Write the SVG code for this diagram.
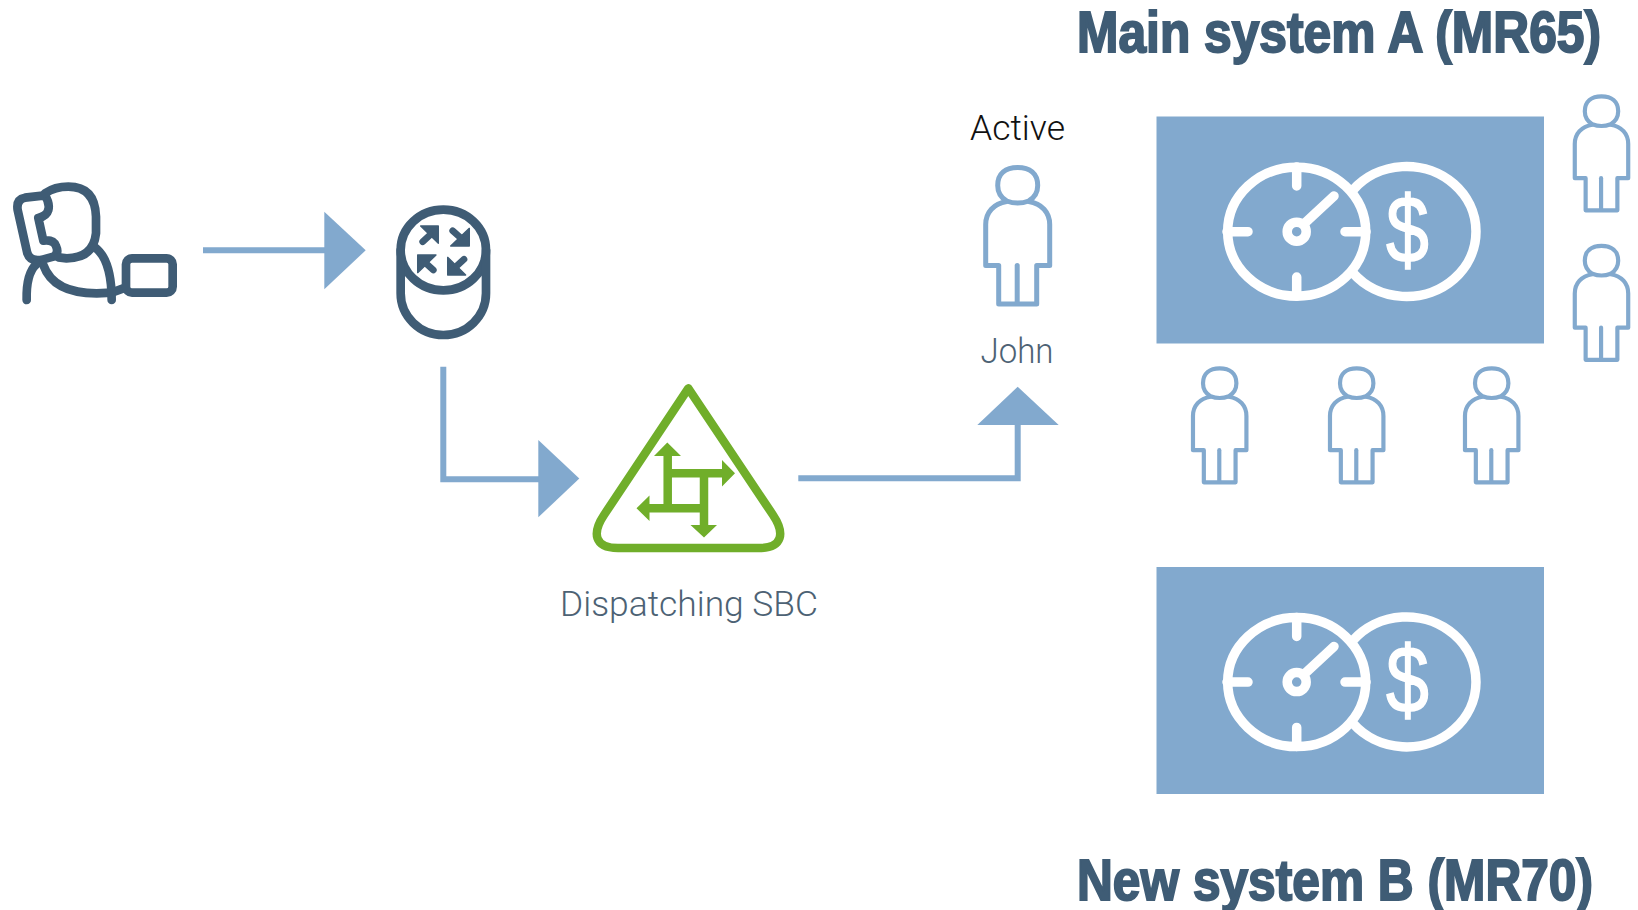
<svg xmlns="http://www.w3.org/2000/svg" xmlns:xlink="http://www.w3.org/1999/xlink" width="1638" height="910" viewBox="0 0 1638 910">
<style>
.dk{fill:none;stroke:#3f5c75;stroke-width:26;stroke-linecap:round;stroke-linejoin:round}
.dkf{fill:#3f5c75;stroke:#3f5c75;stroke-width:4;stroke-linejoin:round}
.conn{fill:none;stroke:#82a9ce;stroke-width:6}
.head{fill:#82a9ce}
.person{fill:none;stroke:#82a9ce;stroke-linejoin:round;stroke-linecap:round}
.wh{fill:none;stroke:#fff;stroke-width:9.5;stroke-linecap:round}
.panel{fill:#82a9ce}
.gr{fill:none;stroke:#70ae2a;stroke-width:8.5}
.grf{fill:#70ae2a}
.title{font-family:"Liberation Sans",Arial,sans-serif;font-weight:700;font-size:57px;fill:#3f5c75;stroke:#3f5c75;stroke-width:2}
.lbl{font-family:Roboto,"Liberation Sans",sans-serif;font-weight:300;font-size:35px}
</style>
<defs>
<g id="p">
<path d="M-11,34.5C-17,31-20,25-20,19C-20,7-12,1 0,1C12,1 20,7 20,19C20,25 17,31 11,34.5C3,37.5-3,37.5-11,34.5Z" stroke-width="5"/>
<path d="M-11,35C-24,37-32,46-32,58V99H-19V137.5H19V99H32V58C32,46 24,37 11,35" stroke-width="5"/>
<path d="M-.5,99V137" stroke-width="5"/>
</g>
<g id="gauge">
<path class="wh" d="M1353,190A69.5,65 0 1 1 1353,273"/>
<ellipse class="wh" cx="1296.7" cy="231.7" rx="69" ry="64.5"/>
<path class="wh" d="M1296.7,167V186M1296.7,277V296M1227,231.7H1248M1345,231.7H1366"/>
<circle class="wh" cx="1296.7" cy="231.7" r="9.5"/>
<path class="wh" d="M1306,222L1334,196"/>
<text transform="translate(1407.5,262) scale(.82,1)" text-anchor="middle" font-family="'Liberation Sans',Arial,sans-serif" font-size="94" fill="#fff" stroke="#fff" stroke-width="1.5">$</text>
</g>
</defs>
<g id="connectors">
<path class="conn" d="M203,250.3H330"/>
<path class="head" d="M324.3,211.7L365.7,250.3L324.3,289.3Z"/>
<path class="conn" d="M443.3,366.7V479.3H545"/>
<path class="head" d="M538.3,440L579.3,478.6L538.3,517.3Z"/>
<path class="conn" d="M798.3,478.3H1017.7V420"/>
<path class="head" d="M977.3,425L1017.7,386.7L1058.7,425Z"/>
</g>
<g id="caller" transform="translate(0,160) scale(.33333)">
<path class="dk" d="M135,106L75,113Q48,118 53,150L82,280Q92,308 130,298L160,290Q178,280 168,258Q160,238 130,242L115,174Q140,168 145,150Q150,130 135,106Z"/>
<path class="dk" d="M135,100Q165,80 205,80Q285,80 288,170V220Q280,295 200,295L175,292"/>
<path class="dk" d="M80,420Q78,340 110,312"/>
<path class="dk" d="M130,315Q160,400 290,400L335,398L370,385"/>
<path class="dk" d="M285,262Q335,300 335,420"/>
<rect class="dk" x="378" y="295" width="140" height="103" rx="18"/>
</g>
<g id="router" transform="translate(0,160) scale(.33333)">
<ellipse class="dk" cx="1330" cy="270" rx="128" ry="121"/>
<path class="dk" d="M1202,270V400A128,125 0 0 0 1458,400V270"/>
<path class="dkf" d="M1262,198H1315V250Z M1408,205V258H1352Z M1253,285H1308L1253,338Z M1343,292V345H1397Z"/>
<path class="dk" d="M1290,225L1268,245M1380,232L1358,212M1280,312L1300,330M1370,318L1392,298" style="stroke-width:20"/>
</g>
<g id="dispatching-sbc">
<path class="gr" stroke-linejoin="round" d="M688.3,388.3L773,515C785,533 783,548 759,548H618C594,548 592,533 604,515Z"/>
<path class="gr" d="M667.7,453V512M664,473.3H723.3M704,470V526.7M646.7,508.3H707"/>
<path class="grf" d="M667.3,442.5L681,456H654ZM735,473.3L722,486.5V460ZM704,537.5L690.5,525H717ZM636.5,508.3L649.5,495.5V521Z"/>
<text class="lbl" x="560" y="616" textLength="258" lengthAdjust="spacingAndGlyphs" fill="#4d6274">Dispatching SBC</text>
</g>
<g id="john">
<text class="lbl" x="970" y="140" textLength="95" lengthAdjust="spacingAndGlyphs" fill="#111">Active</text>
<use href="#p" class="person" transform="translate(1017.7,166.5)"/>
<text class="lbl" x="980.5" y="363" textLength="73" lengthAdjust="spacingAndGlyphs" fill="#4d6274">John</text>
</g>
<g id="system-a">
<text class="title" transform="translate(1077,52) scale(.84,1)" textLength="623.8" lengthAdjust="spacingAndGlyphs">Main system A (MR65)</text>
<rect class="panel" x="1156.5" y="116.5" width="387.5" height="227"/>
<use href="#gauge"/>
</g>
<g id="agents-a">
<use href="#p" class="person" transform="translate(1601.5,95.5) scale(.835)"/>
<use href="#p" class="person" transform="translate(1601.5,245) scale(.835)"/>
<use href="#p" class="person" transform="translate(1219.7,367.5) scale(.835)"/>
<use href="#p" class="person" transform="translate(1356.7,367.5) scale(.835)"/>
<use href="#p" class="person" transform="translate(1491.7,367.5) scale(.835)"/>
</g>
<g id="system-b">
<rect class="panel" x="1156.5" y="567" width="387.5" height="227"/>
<use href="#gauge" transform="translate(0,450.4)"/>
<text class="title" transform="translate(1077,900) scale(.84,1)" textLength="614.3" lengthAdjust="spacingAndGlyphs">New system B (MR70)</text>
</g>
</svg>
